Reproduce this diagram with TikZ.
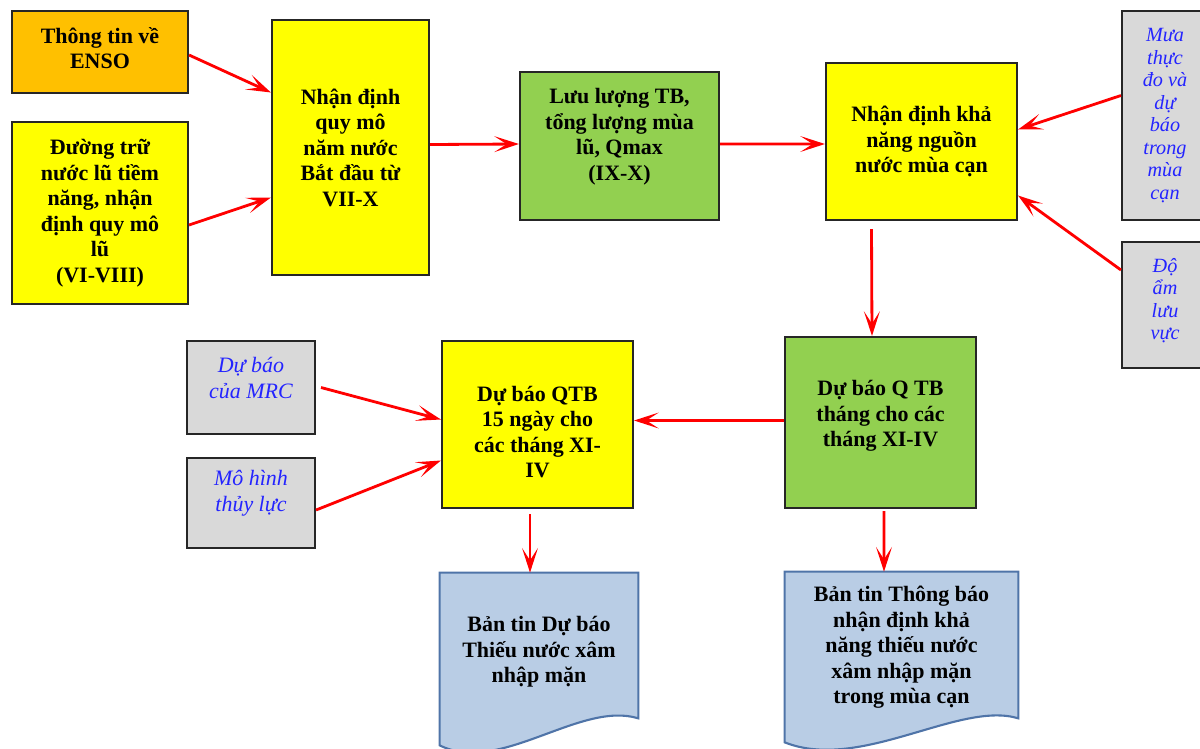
\documentclass[tikz,border=0pt]{standalone}
\usepackage{fontspec}
\setmainfont{Liberation Serif}
\usetikzlibrary{arrows.meta,calc,backgrounds}
\definecolor{orangebox}{HTML}{FFC000}
\definecolor{yellowbox}{HTML}{FFFF00}
\definecolor{greenbox}{HTML}{92D050}
\definecolor{graybox}{HTML}{D9D9D9}
\definecolor{docfill}{HTML}{B9CDE5}
\definecolor{docline}{HTML}{4F74A8}
\definecolor{bluetext}{HTML}{2424FF}
\tikzset{
    box/.style={shape=rectangle,draw=black!85,line width=1.2pt,align=center,inner sep=2pt,
        font=\fontsize{12.5}{14.5}\selectfont\bfseries},
    inbox/.style={box,fill=graybox,text=bluetext,
        font=\fontsize{12.5}{14.5}\selectfont\itshape},
    doctext/.style={shape=rectangle,align=center,inner sep=2pt,
        font=\fontsize{12.5}{14.5}\selectfont\bfseries},
    docshape/.style={fill=docfill,draw=docline,line width=1.2pt},
    arr/.style={red,line width=1.6pt,-{Stealth[length=14pt,width=9pt,inset=7pt]}}
}
\begin{document}
\begin{tikzpicture}[x=0.02cm,y=-0.02cm]
    \useasboundingbox (0,0) rectangle (1200,748);

    \node[box,fill=orangebox,minimum width=3.52cm,minimum height=1.64cm,text depth=4.5pt] (enso) at (100,52) {Thông tin về\\ENSO};
    \node[box,fill=yellowbox,minimum width=3.52cm,minimum height=3.64cm] (duong) at (100,213) {Đường trữ\\nước lũ tiềm\\năng, nhận\\định quy mô\\lũ\\(VI-VIII)};
    \node[box,fill=yellowbox,minimum width=3.14cm,minimum height=5.10cm] (quymo) at (350.5,147.5) {Nhận định\\quy mô\\năm nước\\Bắt đầu từ\\VII-X};
    \node[box,fill=greenbox,minimum width=3.98cm,minimum height=2.96cm,text depth=13pt] (luuluong) at (619.5,146) {Lưu lượng TB,\\tổng lượng mùa\\lũ, Qmax\\(IX-X)};
    \node[box,fill=yellowbox,minimum width=3.82cm,minimum height=3.14cm] (khanang) at (921.5,141.5) {Nhận định khả\\năng nguồn\\nước mùa cạn};
    \node[inbox,minimum width=1.72cm,minimum height=4.18cm,font=\fontsize{11.5}{12.8}\selectfont\itshape] (mua) at (1165,115.5) {Mưa\\thực\\đo và\\dự\\báo\\trong\\mùa\\cạn};
    \node[inbox,minimum width=1.72cm,minimum height=2.52cm,font=\fontsize{11.5}{12.8}\selectfont\itshape,text depth=7pt] (doam) at (1165,305) {Độ\\ẩm\\lưu\\vực};
    \node[box,fill=greenbox,minimum width=3.82cm,minimum height=3.42cm,text depth=10pt] (qthang) at (880.5,422.5) {Dự báo Q TB\\tháng cho các\\tháng XI-IV};
    \node[box,fill=yellowbox,minimum width=3.82cm,minimum height=3.34cm] (q15) at (537.5,424.5) {\rule{0pt}{17pt}Dự báo QTB\\15 ngày cho\\các tháng XI-\\IV};
    \node[inbox,minimum width=2.56cm,minimum height=1.86cm,text depth=11pt] (mrc) at (251,387.5) {Dự báo\\của MRC};
    \node[inbox,minimum width=2.56cm,minimum height=1.80cm,text depth=14pt] (thuyluc) at (251,503) {Mô hình\\thủy lực};
    \node[doctext,minimum width=3.96cm,minimum height=3.00cm] (bantin1) at (539,648) {\rule{0pt}{13pt}Bản tin Dự báo\\Thiếu nước xâm\\nhập mặn};
    \node[doctext,minimum width=4.66cm,minimum height=3.02cm] (bantin2) at (901.5,647.5) {Bản tin Thông báo\\nhận định khả\\năng thiếu nước\\xâm nhập mặn\\trong mùa cạn};

    \begin{scope}[on background layer]
        \path[docshape] (bantin1.north west) -- (bantin1.north east) -- ($(bantin1.south east)+(0,-5)$)
            .. controls ($(bantin1.south)+(41,-23)$) and ($(bantin1.south)+(-39,52)$) .. ($(bantin1.south west)+(0,22)$) -- cycle;
        \path[docshape] (bantin2.north west) -- (bantin2.north east) -- ($(bantin2.south east)+(0,-5)$)
            .. controls ($(bantin2.south)+(58,-23)$) and ($(bantin2.south)+(-41,49)$) .. ($(bantin2.south west)+(0,19)$) -- cycle;
    \end{scope}

    \path [arr] ($(enso.east)+(0,3)$) edge ($(quymo.west)+(0,-55)$);
    \path [arr] ($(duong.east)+(0,12)$) edge ($(quymo.west)+(0,50)$);
    \path [arr] ($(quymo.east)+(0,-3)$) edge ($(luuluong.west)+(0,-2)$);
    \path [arr] ($(luuluong.east)+(0,-2)$) edge ($(khanang.west)+(0,2.5)$);
    \path [arr] ($(mua.west)+(0,-20)$) edge ($(khanang.east)+(0,-12)$);
    \path [arr] ($(doam.west)+(0,-35)$) edge ($(khanang.east)+(0,54)$);
    \path [arr] ($(khanang.south)+(-50,8)$) edge ($(qthang.north)+(-8.5,0)$);
    \path [arr] ($(qthang.west)+(0,-2)$) edge ($(q15.east)+(0,-4)$);
    \path [arr] ($(mrc.east)+(5,0)$) edge ($(q15.west)+(0,-5)$);
    \path [arr] ($(thuyluc.east)+(0,7)$) edge ($(q15.west)+(0,36)$);
    \path [arr] ($(q15.south)+(-7.5,5)$) edge ($(bantin1.north)+(-9,0)$);
    \path [arr] ($(qthang.south)+(3.5,2)$) edge ($(bantin2.north)+(-17.5,0)$);
\end{tikzpicture}
\end{document}
